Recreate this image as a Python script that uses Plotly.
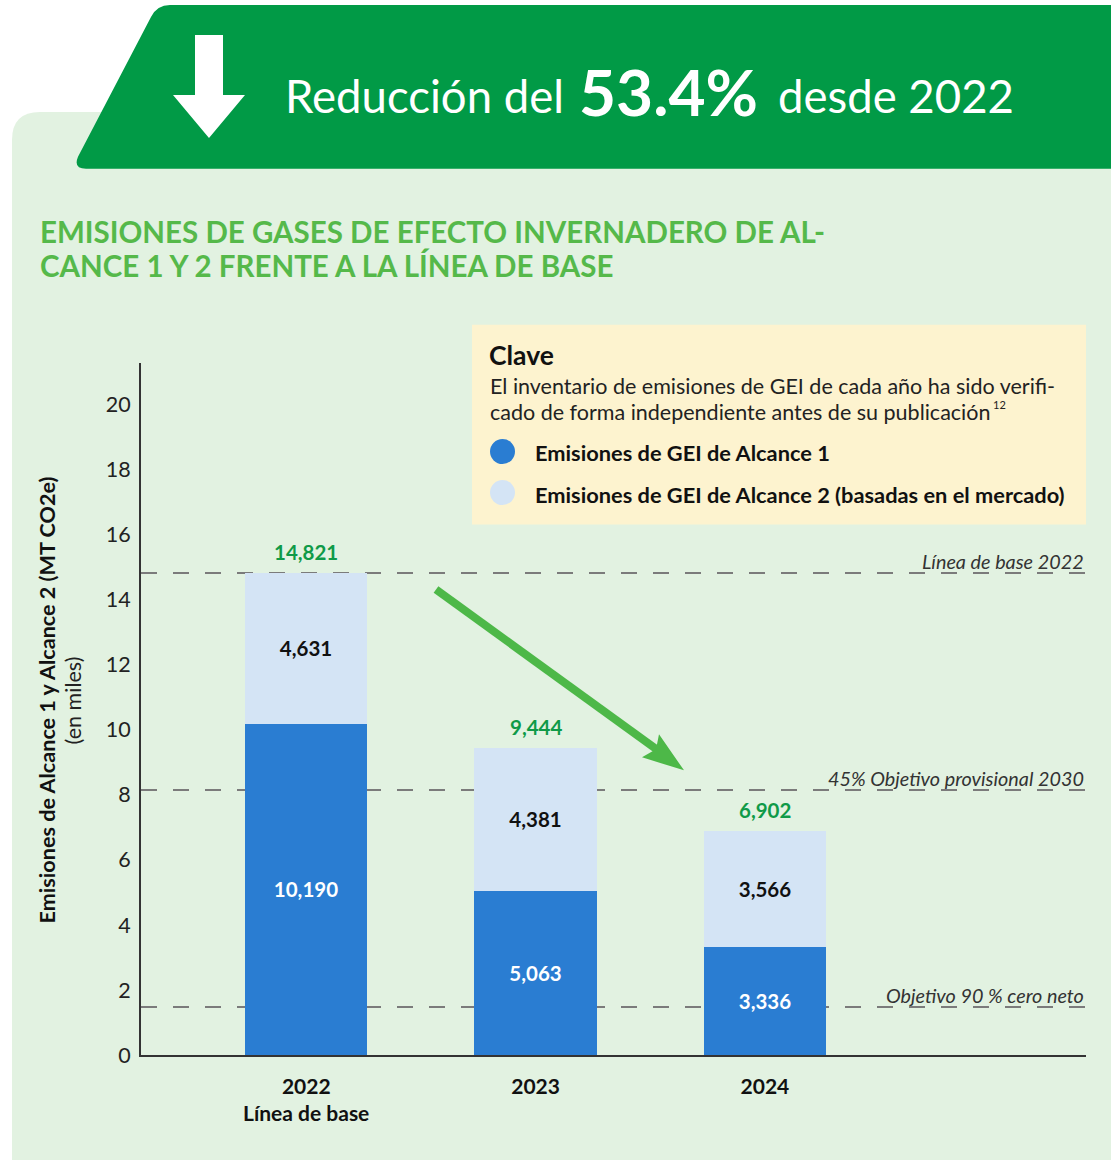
import plotly.graph_objects as go

W, H = 1111, 1161
# the captured page is compressed vertically by ~0.9895; make the figure taller so that
# paper fractions land on the reference pixels
H_FIG = 1173

# ---------------- data ----------------
years = ["2022", "2023", "2024"]
year_labels = ["<b>2022</b>", "<b>2023</b>", "<b>2024</b>"]
baseline_label = "<b>Línea de base</b>"
scope1 = [10190, 5063, 3336]          # MT CO2e
scope2 = [4631, 4381, 3566]           # MT CO2e (market based)
totals = [14821, 9444, 6902]
target_values = [14.821, 8.151, 1.482]   # thousands
target_labels = ["Línea de base 2022", "45% Objetivo provisional 2030", "Objetivo 90 % cero neto"]
y_ticks = [0, 2, 4, 6, 8, 10, 12, 14, 16, 18, 20]

# ---------------- styling ----------------
FONT = "Lato"
BLUE = "#2a7dd2"
LIGHT = "#d4e4f5"
PANEL = "#e2f2e1"
BANNER = "#019a46"
TITLE_GREEN = "#55b94a"
TOTAL_GREEN = "#0f9a48"


def px(x):
    return x / W


def py(y):
    return 1 - y / H


def path(cmds):
    out = []
    for c in cmds:
        if isinstance(c, str):
            out.append(c)
        else:
            out.append(f"{px(c[0]):.5f},{py(c[1]):.5f}")
    return " ".join(out)


x_pos = list(range(len(years)))
s1k = [v / 1000 for v in scope1]
s2k = [v / 1000 for v in scope2]
totk = [v / 1000 for v in totals]

fig = go.Figure()
fig.add_trace(go.Bar(
    x=x_pos, y=s1k, name="Emisiones de GEI de Alcance 1",
    marker=dict(color=BLUE, line=dict(width=0)), width=0.533,
    text=[f"{v:,}" for v in scope1], textposition="inside", insidetextanchor="middle",
    textfont=dict(family=FONT, size=20.5, color="white", weight="bold"),
    constraintext="none", showlegend=False, hoverinfo="skip",
))
fig.add_trace(go.Bar(
    x=x_pos, y=s2k, name="Emisiones de GEI de Alcance 2 (basadas en el mercado)",
    marker=dict(color=LIGHT, line=dict(width=0)), width=0.533,
    text=[f"{v:,}" for v in scope2], textposition="inside", insidetextanchor="middle",
    textfont=dict(family=FONT, size=20.5, color="#111", weight="bold"),
    constraintext="none", showlegend=False, hoverinfo="skip",
))

shapes = []
# light green panel
shapes.append(dict(type="path", xref="paper", yref="paper", layer="below",
                   path=path(["M", (12, 140), "Q", (12, 112), (40, 112), "L", (1111, 112),
                              "L", (1111, 1161), "L", (12, 1161), "Z"]),
                   fillcolor=PANEL, line=dict(width=0)))
# banner
shapes.append(dict(type="path", xref="paper", yref="paper", layer="below",
                   path=path(["M", (86, 169), "L", (1111, 169), "L", (1111, 5), "L", (170, 5),
                              "Q", (157, 5), (151, 17), "L", (78, 157),
                              "Q", (73, 169), (86, 169), "Z"]),
                   fillcolor=BANNER, line=dict(width=0)))
# white down arrow
shapes.append(dict(type="path", xref="paper", yref="paper",
                   path=path(["M", (195, 35), "L", (223, 35), "L", (223, 95), "L", (245, 95),
                              "L", (209, 138), "L", (173, 95), "L", (195, 95), "Z"]),
                   fillcolor="white", line=dict(width=0)))
# key box
shapes.append(dict(type="rect", xref="paper", yref="paper", layer="below",
                   x0=px(472), x1=px(1086), y0=py(525), y1=py(325),
                   fillcolor="#fdf3cf", line=dict(width=0)))
# key circles
for cy, col in [(452, BLUE), (493, LIGHT)]:
    shapes.append(dict(type="circle", xref="paper", yref="paper",
                       x0=px(490), x1=px(515), y0=py(cy + 12.5), y1=py(cy - 12.5),
                       fillcolor=col, line=dict(width=0)))
# dashed target lines
for v in target_values:
    shapes.append(dict(type="line", xref="x domain", yref="y", layer="below",
                       x0=0, x1=1, y0=v, y1=v,
                       line=dict(color="#7b7b7b", width=2, dash="16px,16px")))
# green trend arrow
shapes.append(dict(type="line", xref="paper", yref="paper",
                   x0=px(436), y0=py(590), x1=px(662), y1=py(754),
                   line=dict(color="#4db848", width=8)))
shapes.append(dict(type="path", xref="paper", yref="paper",
                   path=path(["M", (684, 771), "L", (642, 758), "L", (656, 750), "L", (659, 735), "Z"]),
                   fillcolor="#4db848", line=dict(width=0)))

annotations = []


def note(x, y, text, size, color="#111", xanchor="left", **kw):
    annotations.append(dict(xref="paper", yref="paper", x=px(x), y=py(y),
                            xanchor=xanchor, yanchor="middle", text=text, showarrow=False,
                            font=dict(family=FONT, size=size, color=color), **kw))


# banner headline
note(283, 96, "Reducción del", 45.5, "white")
note(577, 92, "<b>53.4%</b>", 64, "white")
note(776, 96, "desde 2022", 45.5, "white")
# chart title
note(38, 232, "<b>EMISIONES DE GASES DE EFECTO INVERNADERO DE AL-</b>", 29.5, TITLE_GREEN)
note(38, 266, "<b>CANCE 1 Y 2 FRENTE A LA LÍNEA DE BASE</b>", 29.5, TITLE_GREEN)
# key texts
note(487, 355, "<b>Clave</b>", 26.5)
note(488, 386, "El inventario de emisiones de GEI de cada año ha sido verifi-", 21.5, "#222")
note(488, 412, "cado de forma independiente antes de su publicación", 21.5, "#222")
note(991, 405, "12", 11, "#222")
note(533, 453, "<b>Emisiones de GEI de Alcance 1</b>", 21.8)
note(533, 495, "<b>Emisiones de GEI de Alcance 2 (basadas en el mercado)</b>", 21.8)
# y axis title
note(47, 701, "<b>Emisiones de Alcance 1 y Alcance 2 (MT CO2e)</b>", 21.6, xanchor="center", textangle=-90)
note(73, 701, "(en miles)", 21.5, "#222", xanchor="center", textangle=-90)
# second line under the 2022 category
annotations.append(dict(xref="x", yref="paper", x=x_pos[0], y=py(1113), xanchor="center",
                        yanchor="middle", text=baseline_label, showarrow=False, borderpad=0,
                        font=dict(family=FONT, size=21, color="#111")))
# totals above the stacks
for xi, t, tk in zip(x_pos, totals, totk):
    annotations.append(dict(xref="x", yref="y", x=xi, y=tk, xanchor="center", yanchor="bottom",
                            yshift=7, text=f"<b>{t:,}</b>", showarrow=False,
                            font=dict(family=FONT, size=20.5, color=TOTAL_GREEN)))
# target labels
for v, t in zip(target_values, target_labels):
    annotations.append(dict(
        xref="x domain", yref="y", x=1.0, y=v, xanchor="right", yanchor="bottom", yshift=-2,
        text=f"<i>{t}</i>", showarrow=False,
        font=dict(family=FONT, size=19.8, color="#333")))

fig.update_layout(
    width=W, height=H_FIG,
    margin=dict(l=0, r=0, t=0, b=0),
    paper_bgcolor="white", plot_bgcolor="rgba(0,0,0,0)",
    barmode="stack", bargap=0,
    showlegend=False,
    shapes=shapes, annotations=annotations,
    font=dict(family=FONT),
    xaxis=dict(
        domain=[px(141), px(1086)],
        range=[-0.7205, 3.4],
        tickmode="array", tickvals=x_pos, ticktext=year_labels,
        tickfont=dict(family=FONT, size=21, color="#111"),
        showgrid=False, zeroline=False,
        showline=True, linecolor="#333", linewidth=2,
        ticks="outside", ticklen=12, tickcolor="rgba(0,0,0,0)",
    ),
    yaxis=dict(
        domain=[py(1056), py(363)],
        range=[0, 21.29],
        tickmode="array", tickvals=y_ticks,
        tickfont=dict(family=FONT, size=21.5, color="#222"),
        showgrid=False, zeroline=False,
        showline=True, linecolor="#333", linewidth=2,
        ticks="outside", ticklen=4, tickcolor="rgba(0,0,0,0)",
    ),
)

# remove the browser's default 8px body margin so the figure fills the window exactly
fig.write_html("out.html", config={"displayModeBar": False},
               post_script="document.body.style.margin='0';")
